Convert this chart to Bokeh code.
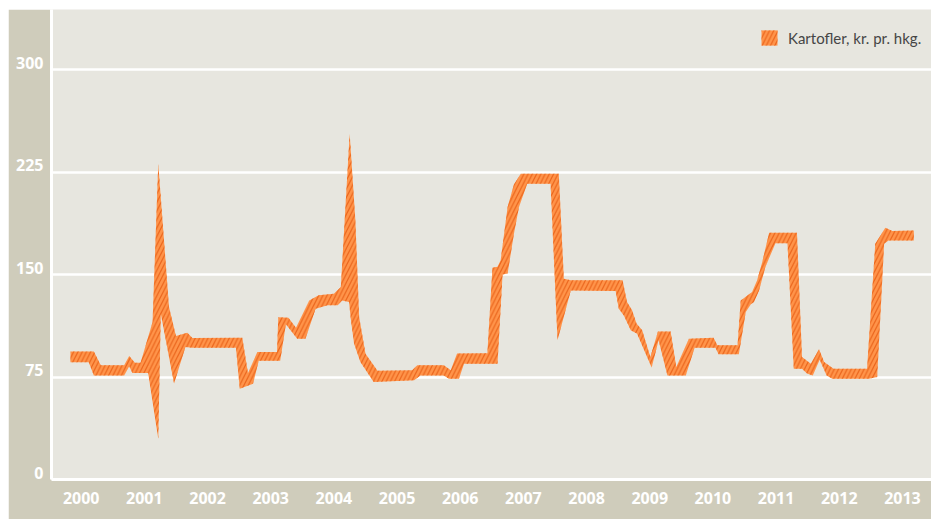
from bokeh.plotting import figure
from bokeh.models import (FixedTicker, CustomJSTickFormatter, Legend, LegendItem,
                          BoxAnnotation)
from bokeh.embed import file_html
from bokeh.resources import INLINE

# ---- data (decimal years, kr. per hkg) ----
upper_years = [2000.33, 2000.70, 2000.81, 2001.18, 2001.26, 2001.35, 2001.44, 2001.63, 2001.72,
               2001.89, 2002.00, 2002.18, 2002.26, 2003.05, 2003.14, 2003.29, 2003.60, 2003.62,
               2003.78, 2003.90, 2004.11, 2004.26, 2004.50, 2004.61, 2004.75, 2004.84, 2004.90,
               2005.00, 2005.19, 2005.74, 2005.82, 2006.24, 2006.35, 2006.45, 2006.93, 2007.01,
               2007.09, 2007.14, 2007.25, 2007.35, 2007.46, 2008.06, 2008.14, 2008.25, 2009.07,
               2009.14, 2009.22, 2009.29, 2009.38, 2009.51, 2009.63, 2009.83, 2009.92, 2010.12,
               2010.51, 2010.57, 2010.89, 2010.94, 2011.12, 2011.20, 2011.28, 2011.39, 2011.83,
               2011.91, 2012.05, 2012.18, 2012.26, 2012.41, 2012.94, 2013.07, 2013.23, 2013.34,
               2013.68]
upper_values = [93.6, 93.6, 83.6, 83.6, 90.4, 85.5, 85.5, 115.2, 231.0,
                126.2, 105.0, 107.5, 103.5, 103.8, 78.0, 93.3, 93.3, 118.7,
                118.4, 111.0, 131.1, 134.8, 136.0, 140.9, 253.0, 189.7, 118.9,
                92.1, 79.6, 79.9, 83.6, 83.6, 80.0, 92.3, 92.4, 155.0,
                155.8, 160.4, 199.4, 216.0, 223.8, 223.8, 147.0, 145.8, 145.8,
                129.9, 123.8, 114.1, 109.2, 89.6, 108.4, 108.4, 82.3, 103.1,
                103.8, 98.2, 98.2, 131.1, 137.2, 145.8, 159.1, 180.6, 180.6,
                89.6, 84.8, 95.3, 86.0, 81.1, 81.1, 172.6, 184.3, 181.8,
                182.3]

lower_years = [2000.33, 2000.62, 2000.70, 2001.18, 2001.26, 2001.31, 2001.56, 2001.72, 2001.76,
               2001.97, 2002.15, 2002.26, 2002.95, 2003.01, 2003.22, 2003.31, 2003.65, 2003.74,
               2003.92, 2004.05, 2004.21, 2004.40, 2004.56, 2004.63, 2004.74, 2004.77, 2004.82,
               2004.92, 2005.13, 2005.77, 2005.87, 2006.24, 2006.32, 2006.48, 2006.56, 2007.09,
               2007.17, 2007.25, 2007.35, 2007.43, 2007.56, 2007.93, 2008.04, 2008.25, 2008.96,
               2009.01, 2009.09, 2009.20, 2009.30, 2009.53, 2009.64, 2009.78, 2010.07, 2010.21,
               2010.54, 2010.59, 2010.91, 2011.02, 2011.10, 2011.15, 2011.23, 2011.33, 2011.49,
               2011.68, 2011.78, 2011.91, 2011.99, 2012.08, 2012.19, 2012.30, 2012.39, 2012.97,
               2013.10, 2013.21, 2013.28, 2013.68]
lower_values = [85.8, 85.8, 76.2, 76.2, 82.8, 77.9, 77.9, 29.9, 121.4,
                70.2, 97.0, 96.5, 96.5, 66.5, 70.0, 87.0, 87.0, 113.6,
                103.1, 103.1, 125.0, 127.5, 127.5, 131.1, 129.9, 116.5, 99.4,
                86.0, 71.3, 72.6, 76.2, 76.2, 73.8, 73.8, 84.8, 84.8,
                150.0, 150.7, 179.9, 199.4, 216.5, 216.5, 101.9, 138.4, 137.9,
                125.0, 120.1, 109.2, 106.7, 81.9, 101.9, 76.2, 76.2, 96.5,
                96.5, 91.6, 91.6, 122.6, 128.2, 129.9, 138.4, 155.5, 173.0,
                173.0, 81.1, 81.1, 77.5, 76.2, 87.7, 76.2, 73.8, 73.8,
                75.0, 172.6, 175.0, 175.0]

year_labels = list(range(2000, 2014))
y_grid_values = [75, 150, 225, 300]
y_label_values = [0, 75, 150, 225, 300]
series_label = "Kartofler, kr. pr. hkg."

PANEL = "#cfccbb"
PLOT_BG = "#e7e6df"
FILL = "#ff944a"
HATCH = "#ea651c"

p = figure(width=923, height=510, output_backend="svg", toolbar_location=None,
           x_range=(2000.03, 2013.96), y_range=(0, 344),
           min_border_left=43, min_border_right=0, min_border_top=0, min_border_bottom=40)
p.margin = (9, 0, 0, 8)
p.border_fill_color = PANEL
p.background_fill_color = PLOT_BG
p.outline_line_color = None

xs = upper_years + lower_years[::-1]
ys = upper_values + lower_values[::-1]
band = p.patch(xs, ys, fill_color=FILL, line_color=None,
               hatch_pattern="/", hatch_color=HATCH, hatch_scale=8.5, hatch_weight=1.2)

# grid
p.xgrid.visible = False
p.ygrid[0].ticker = FixedTicker(ticks=y_grid_values)
p.ygrid[0].grid_line_color = "white"
p.ygrid[0].grid_line_width = 2.5

# axes
LABEL_SHIFT = 5
for ax in (p.xaxis[0], p.yaxis[0]):
    ax.axis_line_color = "white"
    ax.axis_line_width = 3
    ax.major_tick_line_color = None
    ax.minor_tick_line_color = None
    ax.major_tick_out = 0
    ax.major_tick_in = 0
    ax.minor_tick_out = 0
    ax.minor_tick_in = 0
    ax.major_label_text_color = "white"
    ax.major_label_text_font = "Open Sans"
    ax.major_label_text_font_style = "bold"
    ax.major_label_text_font_size = "16px"

p.yaxis[0].ticker = FixedTicker(ticks=[v + LABEL_SHIFT for v in y_label_values])
p.yaxis[0].formatter = CustomJSTickFormatter(code="return (tick - %d).toFixed(0);" % LABEL_SHIFT)
p.yaxis[0].major_label_standoff = 8

p.xaxis[0].ticker = FixedTicker(ticks=[y + 0.5 for y in year_labels])
p.xaxis[0].formatter = CustomJSTickFormatter(code="return Math.floor(tick).toFixed(0);")
p.xaxis[0].major_label_standoff = 12

# white separator continuing below the plot frame
p.add_layout(BoxAnnotation(left=41.5, right=44.5, top=469, bottom=512,
                           left_units="canvas", right_units="canvas",
                           top_units="canvas", bottom_units="canvas",
                           fill_color="white", fill_alpha=1, line_color=None))

legend = Legend(items=[LegendItem(label=series_label, renderers=[band])],
                location=(708, 432), padding=0, margin=0, spacing=0,
                glyph_width=20, glyph_height=19, label_height=19, label_standoff=9,
                label_text_font="Lato", label_text_font_size="15px",
                label_text_color="#454545", background_fill_alpha=0,
                border_line_color=None)
p.add_layout(legend)

open("out.html", "w").write(file_html(p, INLINE))
